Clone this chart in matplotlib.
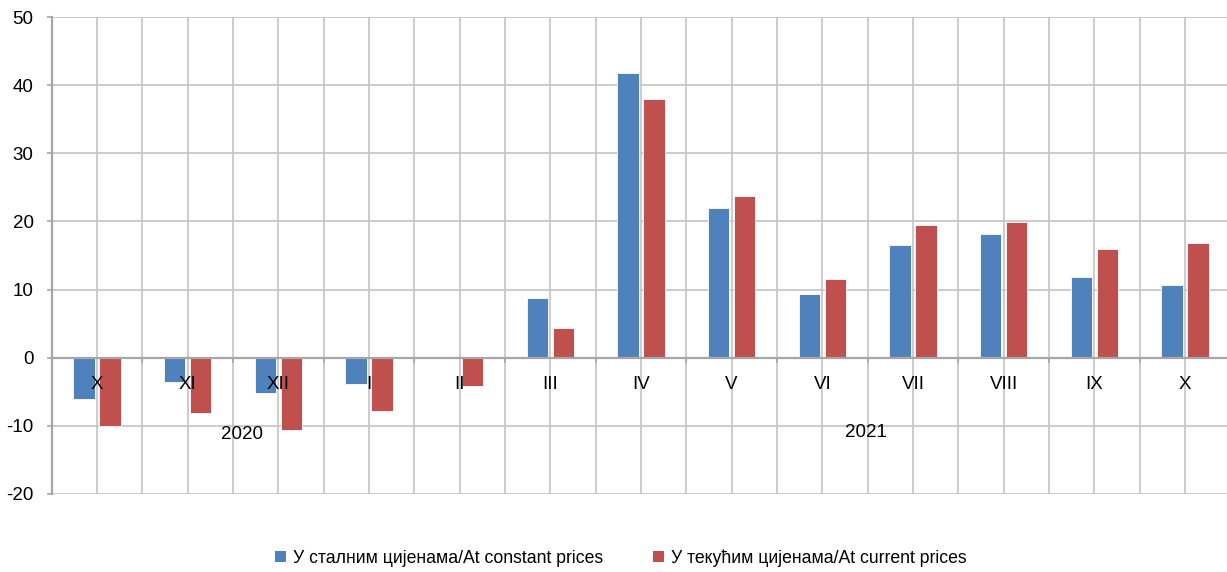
import matplotlib
matplotlib.use("Agg")
import matplotlib.pyplot as plt
from matplotlib.patches import Patch
import numpy as np

plt.rcParams['font.family'] = ['Liberation Sans', 'DejaVu Sans']

categories = ["X", "XI", "XII", "I", "II", "III", "IV", "V", "VI", "VII", "VIII", "IX", "X"]
constant_prices = [-6.0, -3.6, -5.2, -3.9, 0.0, 8.8, 41.8, 21.9, 9.4, 16.5, 18.1, 11.8, 10.6]
current_prices = [-10.0, -8.1, -10.6, -7.8, -4.2, 4.3, 38.0, 23.7, 11.6, 19.5, 19.9, 16.0, 16.8]
years = ["2020", "2021"]
series_labels = ["У сталним цијенама/At constant prices", "У текућим цијенама/At current prices"]
yticks = [-20, -10, 0, 10, 20, 30, 40, 50]

blue = "#4F81BD"
red = "#C0504D"

W, H = 1227, 572
fig = plt.figure(figsize=(W / 100, H / 100), dpi=100)
left_px, right_px, top_px, bot_px = 51.7, 1230.3, 17, 494
ax = fig.add_axes([left_px / W, 1 - bot_px / H, (right_px - left_px) / W, (bot_px - top_px) / H])

n = len(categories)
x = np.arange(n)
bw = 0.235
gap = 0.05
ax.bar(x - (bw + gap) / 2, constant_prices, width=bw, color=blue, edgecolor="white", linewidth=0.6, zorder=3)
ax.bar(x + (bw + gap) / 2, current_prices, width=bw, color=red, edgecolor="white", linewidth=0.6, zorder=3)

ax.set_xlim(-0.5, n - 0.5)
ax.set_ylim(-20, 50)

grid_c = "#C4C4C4"
for v in yticks:
    ax.axhline(v, color=grid_c, lw=1.2, zorder=1)
for b in np.arange(-0.5, n, 0.5):
    ax.axvline(b, color=grid_c, lw=1.2, zorder=1)

# zero axis
ax.spines['bottom'].set_position(('data', 0))
ax.spines['bottom'].set_color("#A6A6A6")
ax.spines['bottom'].set_linewidth(1.6)
ax.spines['bottom'].set_zorder(4)
ax.set_xticks(np.arange(-0.5, n, 1.0))
ax.set_xticklabels([])
ax.tick_params(axis='x', length=3.6, width=1.2, color="#A6A6A6", direction='out')

ax.spines['left'].set_color("#A6A6A6")
ax.spines['left'].set_linewidth(1.6)
ax.spines['top'].set_visible(False)
ax.spines['right'].set_visible(False)
ax.set_yticks(yticks)
ax.set_yticklabels([str(v) for v in yticks], fontsize=13.5)
ax.tick_params(axis='y', length=3.6, width=1.2, color="#A6A6A6", pad=9.5)

for i, c in enumerate(categories):
    ax.text(i, -3.95, c, ha='center', va='center', fontsize=13.5, zorder=5)

ax.text(1.60, -11.25, years[0], ha='center', va='center', fontsize=13.5, zorder=5)
ax.text(8.48, -11.0, years[1], ha='center', va='center', fontsize=13.5, zorder=5)

handles = [Patch(facecolor=blue, edgecolor='none'), Patch(facecolor=red, edgecolor='none')]
fig.legend(handles, series_labels, loc='center', bbox_to_anchor=(0.506, 1 - 558 / H), ncol=2,
           frameon=False, fontsize=12.7, handlelength=0.65, handleheight=0.65, handletextpad=0.4,
           columnspacing=2.8)

fig.savefig("out.png", dpi=100)
